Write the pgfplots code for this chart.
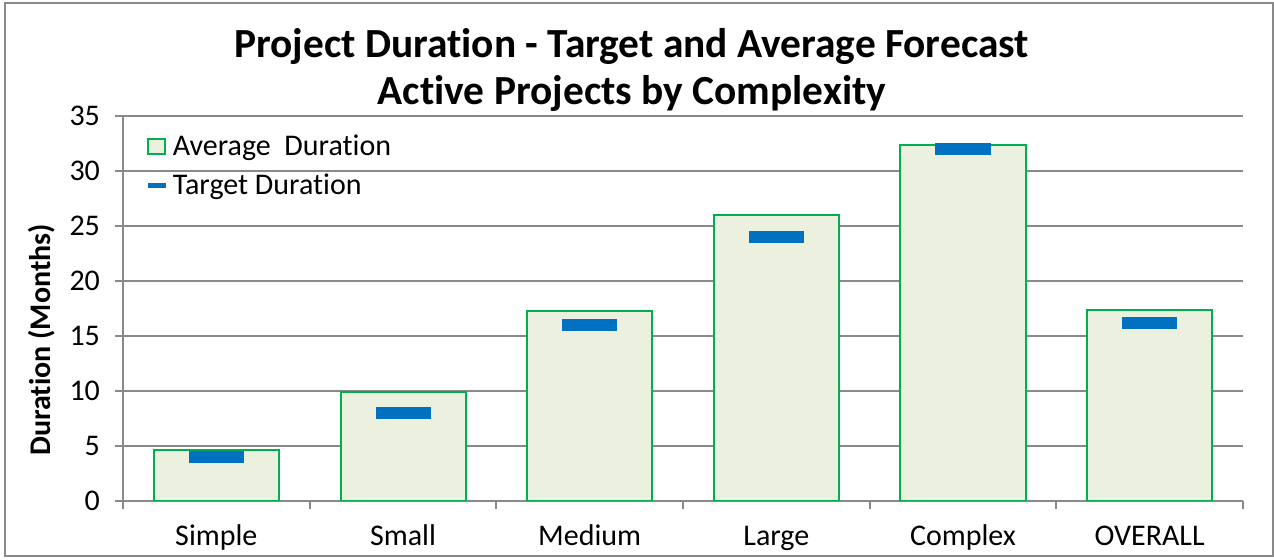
\documentclass[border=0pt]{standalone}
\usepackage{fontspec}
\setmainfont{Carlito}[Ligatures=NoCommon]
\usepackage{pgfplots}
\pgfplotsset{compat=1.18}
\definecolor{barfill}{HTML}{EBF1DE}
\definecolor{barline}{HTML}{00B050}
\definecolor{tgt}{HTML}{0070C0}
\definecolor{gridc}{HTML}{898989}
\begin{document}
\begin{tikzpicture}
\path[use as bounding box] (0,0) rectangle (637pt,279.5pt);
\begin{axis}[
  at={(61.5pt,29.2pt)}, anchor=south west,
  scale only axis, width=560pt, height=192.3pt,
  xmin=-0.5, xmax=5.5, ymin=0, ymax=35,
  axis x line*=bottom, axis y line*=left,
  axis line style={gridc, line width=1pt},
  ytick={0,5,...,35}, ymajorgrids,
  major grid style={gridc, line width=1pt},
  xtick={0,...,5},
  xticklabels={Simple,Small,Medium,Large,Complex,OVERALL},
  minor xtick={-0.5,0.5,...,5.5},
  tick align=outside, major tick length=4pt, minor tick length=4pt,
  major x tick style={draw=none},
  minor x tick style={gridc, line width=1pt},
  ytick style={gridc, line width=1pt},
  tick label style={font=\fontsize{15}{18}\selectfont, text=black},
  /pgf/number format/assume math mode=true,
  xticklabel style={anchor=base, yshift=-18.5pt},
  yticklabel style={xshift=-4pt},
  legend style={draw=none, fill=none, at={(0.02,0.98)}, anchor=north west,
    xshift=-3pt, yshift=-1.5pt,
    font=\fontsize{15}{18}\selectfont, row sep=3.5pt},
  legend cell align=left,
]
\addplot[ybar, bar width=62.5pt, bar shift=0pt, fill=barfill, draw=barline, line width=1pt,
  legend image code/.code={\draw[fill=barfill, draw=barline, line width=1pt] (0pt,-3.75pt) rectangle (8.5pt,3.75pt);}]
  coordinates {(0,4.65) (1,9.9) (2,17.3) (3,26.0) (4,32.4) (5,17.35)};
\addlegendentry{Average\ \ Duration}
\addplot[only marks, mark=-, mark size=13.75pt, mark options={line width=6pt, tgt},
  legend image code/.code={\draw[tgt, line width=2.5pt] (0pt,0pt) -- (9pt,0pt);}]
  coordinates {(0,4.0) (1,8.0) (2,16.0) (3,24.0) (4,32.0) (5,16.2)};
\addlegendentry{Target Duration}
\end{axis}
\node[anchor=base, font=\bfseries\fontsize{20.7}{24}\selectfont] at (315.8pt,251pt) {Project Duration - Target and Average Forecast};
\node[anchor=base, font=\bfseries\fontsize{20.7}{24}\selectfont] at (316pt,227.5pt) {Active Projects by Complexity};
\node[rotate=90, anchor=base, font=\bfseries\fontsize{15}{18}\selectfont] at (25pt,109.5pt) {Duration (Months)};
\draw[gridc, line width=1pt] (2.5pt,1.65pt) rectangle (636.35pt,278pt);
\end{tikzpicture}
\end{document}
